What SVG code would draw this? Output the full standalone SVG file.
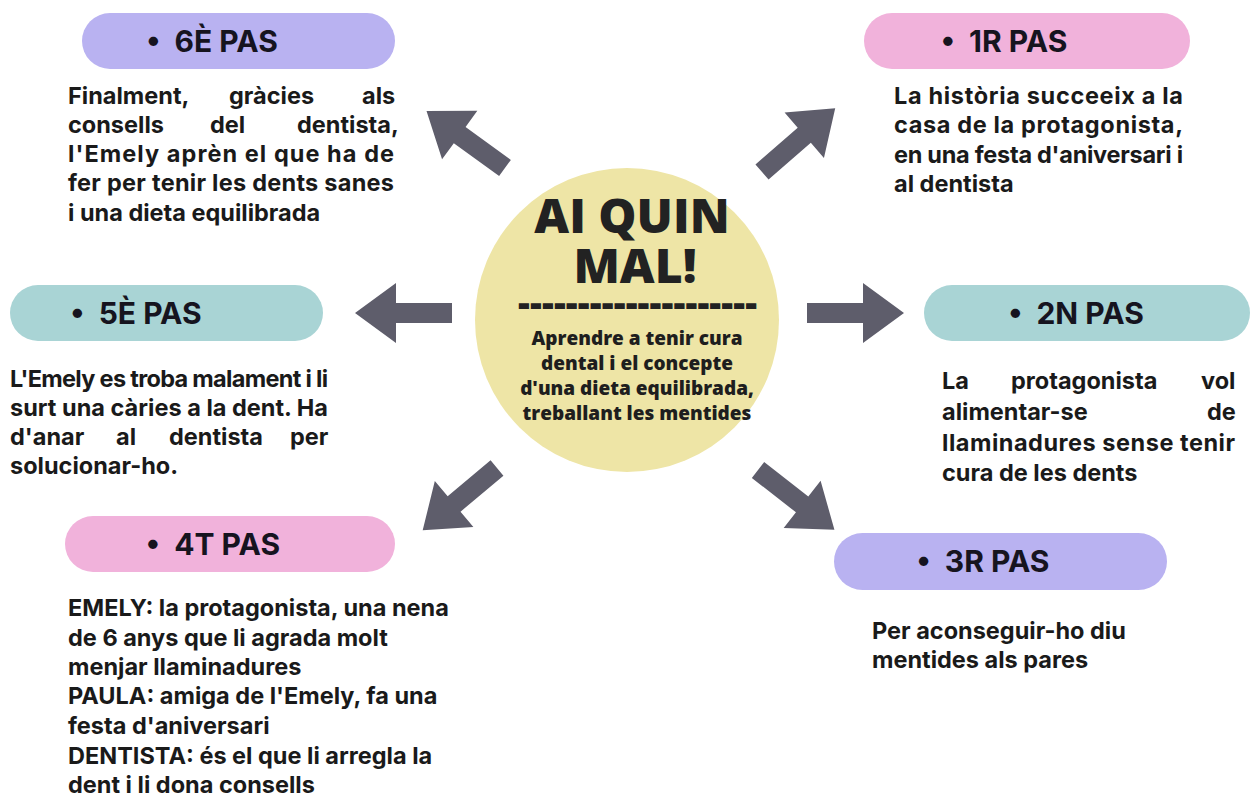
<svg xmlns="http://www.w3.org/2000/svg" width="1257" height="802" viewBox="0 0 1257 802">
<defs>
<style>
.pill-lav{fill:#b9b2f1}
.pill-pink{fill:#f1b2db}
.pill-teal{fill:#a9d4d5}
.ptxt{font-family:Inter,"Noto Sans",sans-serif;font-weight:700;font-size:30px;fill:#16141f;text-anchor:middle}
.body{font-family:Inter,"Noto Sans",sans-serif;font-weight:700;font-size:23.5px;fill:#1a1a1a}
.title{font-family:"Open Sans","Liberation Sans",sans-serif;font-weight:800;font-size:48px;fill:#222;text-anchor:middle}
.sub{font-family:"Open Sans","Liberation Sans",sans-serif;font-weight:800;font-size:19px;fill:#1e1e1e;text-anchor:middle}
.arrow{fill:#5e5d6b}
</style>
<path id="arr" d="M0,-10 H56 V-30 L97,0 L56,30 V10 H0 Z"/>
</defs>
<rect width="1257" height="802" fill="#ffffff"/>

<g id="connectors">
<use href="#arr" class="arrow" transform="translate(452,313) rotate(180)"/>
<use href="#arr" class="arrow" transform="translate(807,313)"/>
<use href="#arr" class="arrow" transform="translate(505,168) rotate(-144)"/>
<use href="#arr" class="arrow" transform="translate(762,172) rotate(-41)"/>
<use href="#arr" class="arrow" transform="translate(497,468) rotate(140)"/>
<use href="#arr" class="arrow" transform="translate(758,470) rotate(38)"/>
</g>

<g id="center">
<circle cx="627" cy="320" r="152" fill="#eee5a6"/>
<text class="title" x="632" y="233">AI QUIN</text>
<text class="title" x="635" y="283">MAL!</text>
<text x="518" y="316" font-family="'Open Sans','Liberation Sans',sans-serif" font-weight="800" font-size="37" fill="#222" textLength="239" lengthAdjust="spacing">--------------------</text>
<text class="sub" x="637" y="345">Aprendre a tenir cura</text>
<text class="sub" x="637" y="370">dental i el concepte</text>
<text class="sub" x="637" y="395">d'una dieta equilibrada,</text>
<text class="sub" x="637" y="420">treballant les mentides</text>
</g>

<g id="step6">
<rect class="pill-lav" x="82" y="13" width="313" height="56" rx="28"/>
<text class="ptxt" x="212" y="52">•<tspan dx="7"> 6È PAS</tspan></text>
<text class="body" y="104"><tspan x="68">Finalment,</tspan><tspan x="229">gràcies</tspan><tspan x="362">als</tspan></text>
<text class="body" y="133"><tspan x="68">consells</tspan><tspan x="210">del</tspan><tspan x="297">dentista,</tspan></text>
<text class="body" x="68" y="162" textLength="326" lengthAdjust="spacing">l'Emely aprèn el que ha de</text>
<text class="body" x="68" y="191" textLength="326" lengthAdjust="spacing">fer per tenir les dents sanes</text>
<text class="body" x="68" y="221">i una dieta equilibrada</text>
</g>

<g id="step1">
<rect class="pill-pink" x="864" y="13" width="326" height="56" rx="28"/>
<text class="ptxt" x="1004" y="52">•<tspan dx="7"> 1R PAS</tspan></text>
<text class="body" x="894" y="104" textLength="289" lengthAdjust="spacing">La història succeeix a la</text>
<text class="body" x="894" y="133" textLength="289" lengthAdjust="spacing">casa de la protagonista,</text>
<text class="body" x="894" y="163" textLength="289" lengthAdjust="spacing">en una festa d'aniversari i</text>
<text class="body" x="894" y="192">al dentista</text>
</g>

<g id="step5">
<rect class="pill-teal" x="10" y="285" width="313" height="56" rx="28"/>
<text class="ptxt" x="136" y="324">•<tspan dx="7"> 5È PAS</tspan></text>
<text class="body" x="10" y="387" textLength="318" lengthAdjust="spacing">L'Emely es troba malament i li</text>
<text class="body" x="10" y="416" textLength="318" lengthAdjust="spacing">surt una càries a la dent. Ha</text>
<text class="body" y="445"><tspan x="10">d'anar</tspan><tspan x="116">al</tspan><tspan x="169">dentista</tspan><tspan x="290">per</tspan></text>
<text class="body" x="10" y="474">solucionar-ho.</text>
</g>

<g id="step2">
<rect class="pill-teal" x="924" y="285" width="326" height="56" rx="28"/>
<text class="ptxt" x="1076" y="324">•<tspan dx="7"> 2N PAS</tspan></text>
<text class="body" y="389"><tspan x="942">La</tspan><tspan x="1011">protagonista</tspan><tspan x="1201">vol</tspan></text>
<text class="body" y="420"><tspan x="942">alimentar-se</tspan><tspan x="1207">de</tspan></text>
<text class="body" x="942" y="451" textLength="293" lengthAdjust="spacing">llaminadures sense tenir</text>
<text class="body" x="942" y="481">cura de les dents</text>
</g>

<g id="step4">
<rect class="pill-pink" x="65" y="516" width="330" height="56" rx="28"/>
<text class="ptxt" x="213" y="555">•<tspan dx="7"> 4T PAS</tspan></text>
<text class="body" x="68" y="616">EMELY: la protagonista, una nena</text>
<text class="body" x="68" y="646">de 6 anys que li agrada molt</text>
<text class="body" x="68" y="675">menjar llaminadures</text>
<text class="body" x="68" y="704">PAULA: amiga de l'Emely, fa una</text>
<text class="body" x="68" y="734">festa d'aniversari</text>
<text class="body" x="68" y="764">DENTISTA: és el que li arregla la</text>
<text class="body" x="68" y="793">dent i li dona consells</text>
</g>

<g id="step3">
<rect class="pill-lav" x="834" y="533" width="333" height="57" rx="28.5"/>
<text class="ptxt" x="983" y="572">•<tspan dx="7"> 3R PAS</tspan></text>
<text class="body" x="872" y="639">Per aconseguir-ho diu</text>
<text class="body" x="872" y="668">mentides als pares</text>
</g>
</svg>
